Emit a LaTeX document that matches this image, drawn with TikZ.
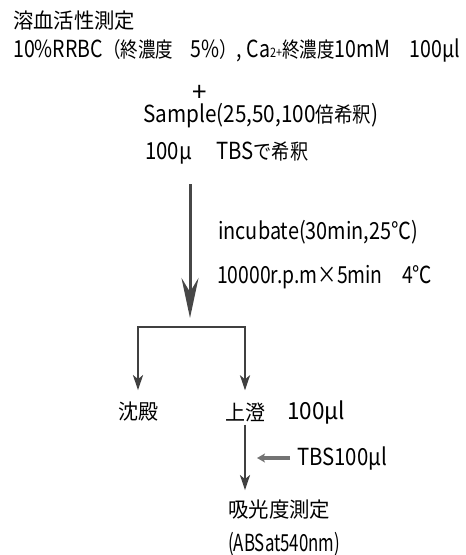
\documentclass[tikz,border=0pt]{standalone}
\usepackage{fontspec}
\setmainfont{Noto Sans CJK JP}
\usetikzlibrary{arrows.meta}
\newcommand\fw[2]{\resizebox{#1pt}{\height}{#2}}
\newcommand\lt[1]{{\fontsize{23.5}{23.5}\selectfont #1}}
\begin{document}
\begin{tikzpicture}[x=1pt,y=-1pt,
  txt/.style={inner sep=0pt, anchor=west, font=\fontsize{21}{21}\selectfont},
  bigarrow/.style={draw=black!72, line width=3pt, -{Stealth[length=40pt,width=17pt,inset=14pt]}},
  flowline/.style={draw=black!75, line width=2.5pt},
  flowarrow/.style={flowline, -{Stealth[length=15pt,width=10pt,inset=4pt]}},
  addarrow/.style={draw=black!55, line width=3.5pt, -{Stealth[length=8pt,width=9pt,inset=2pt]}}]
\useasboundingbox (0,0) rectangle (466,555);
\node[txt] (title) at (13,21) {\fw{122}{溶血活性測定}};
\node[txt] (cond) at (13,50) {\fw{447}{\lt{10\%RRBC}（終濃度\hspace{1em}\lt{5\%}）\lt{, Ca}{\fontsize{13}{13}\selectfont 2+}終濃度\lt{10mM\hspace{1em}100μl}}};
\node[txt, anchor=center] (plus) at (200,93) {\fontsize{26}{26}\selectfont +};
\node[txt] (sample) at (143,116) {\fw{235}{\lt{Sample(25,50,100}倍希釈\lt{)}}};
\node[txt] (tbs) at (145,153) {\fw{163}{\lt{100μ\hspace{1.2em}TBS}で希釈}};
\node[txt] (inc) at (218,232) {\fw{200}{\lt{incubate(30min,25℃)}}};
\node[txt] (spin) at (217,277) {\fw{215}{\lt{10000r.p.m×5min\hspace{1em}4℃}}};
\node[txt, anchor=center] (ppt) at (138,412) {\fw{40}{沈殿}};
\node[txt, anchor=center] (sup) at (245,412) {\fw{40}{上澄}};
\node[txt] (vol) at (287,412) {\fw{58}{\lt{100μl}}};
\node[txt] (tbs2) at (297,458) {\fw{90}{\lt{TBS100μl}}};
\node[txt] (abs) at (228,510) {\fw{102}{吸光度測定}};
\node[txt] (absnm) at (228,544) {\fw{112}{\lt{(ABSat540nm)}}};
\coordinate (a0) at (190,184);
\coordinate (a1) at (190,318);
\coordinate (split) at (190,327);
\draw[bigarrow] (a0) -- (a1);
\draw[flowarrow, shorten >=12pt] (split) -| (ppt.north);
\draw[flowarrow, shorten >=12pt] (split) -| (sup.north);
\draw[flowarrow, shorten <=3pt, shorten >=10pt] (sup.south) -- (sup.south |- abs.north);
\draw[addarrow, shorten <=7pt, shorten >=12pt] (tbs2.west) -- (sup.south |- tbs2.west);
\end{tikzpicture}
\end{document}
